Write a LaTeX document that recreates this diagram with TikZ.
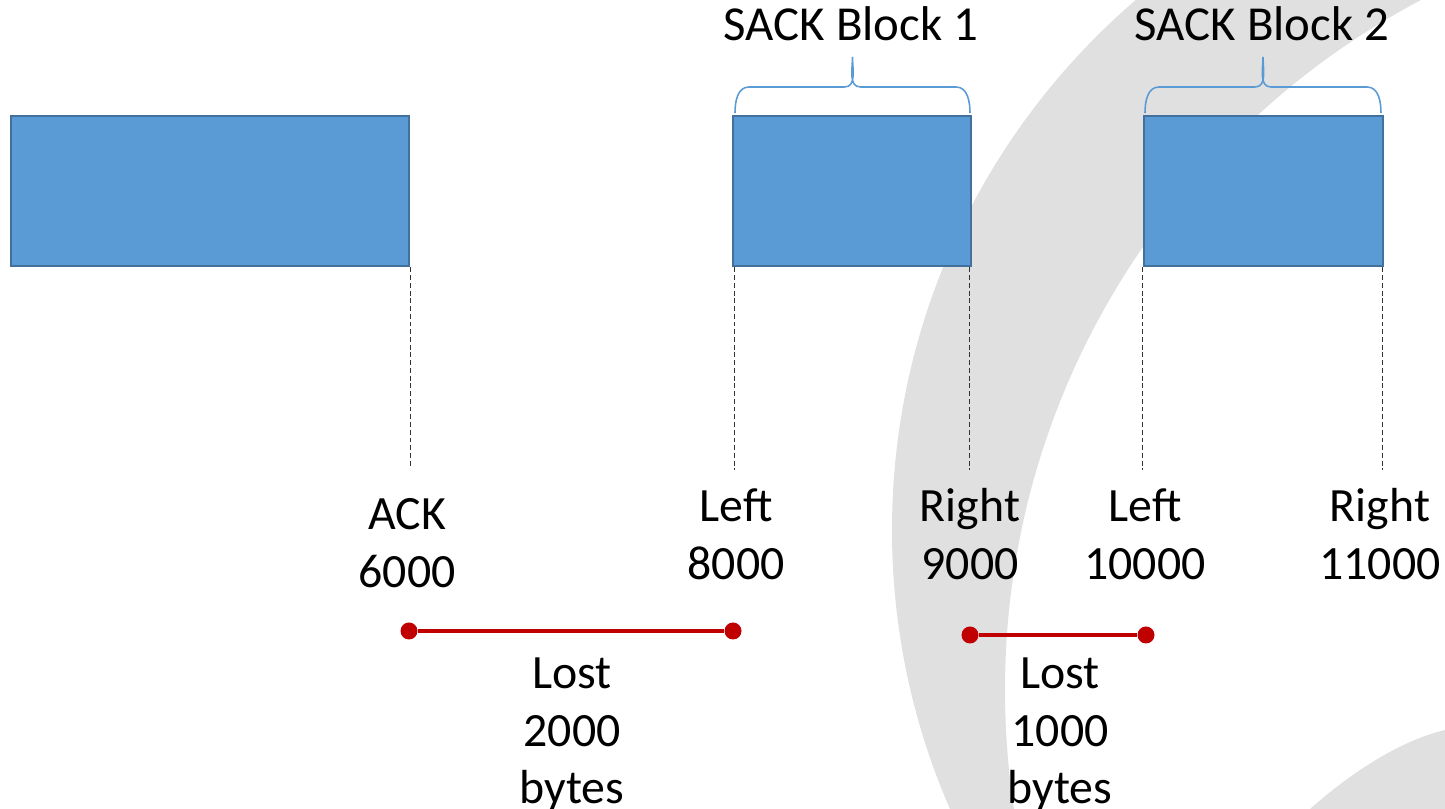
\documentclass[tikz,border=0pt]{standalone}
\usepackage{fontspec}
\setmainfont{Carlito}
\usepackage{tikz}
\definecolor{segblue}{HTML}{5B9BD5}
\definecolor{segedge}{HTML}{41719C}
\definecolor{lossred}{HTML}{C00000}
\definecolor{wmgray}{HTML}{E0E0E0}
\tikzset{
  seg/.style={draw=segedge,fill=segblue,line width=0.8pt,inner sep=0,minimum height=1.5cm},
  guide/.style={draw=black!80,line width=0.45pt,dash pattern=on 1.4pt off 0.8pt},
  lbl/.style={font=\fontsize{13.6}{16.4}\selectfont,align=center,inner sep=0,anchor=north},
  sacklbl/.style={font=\fontsize{13.9}{16.4}\selectfont,inner sep=0,anchor=south},
  sackbrace/.style={draw=segblue,line width=0.45pt},
  lossdot/.style={circle,fill=lossred,inner sep=0,minimum size=0.17cm},
  lossline/.style={draw=lossred,line width=1pt}
}
\begin{document}
\begin{tikzpicture}[y=-1cm]
  \useasboundingbox (0,0) rectangle (14.45,8.09);
  \fill[wmgray,even odd rule] (15.90,5.30) circle (6.98) (17.85,6.90) circle (7.80);
  \fill[wmgray] (13.10,8.09) .. controls (13.45,7.78) and (13.95,7.42) .. (14.45,7.30) -- (14.45,8.09) -- cycle;
  \node[seg,minimum width=3.98cm] (seg0) at (2.10,1.91) {};
  \node[seg,minimum width=2.38cm] (blk1) at (8.52,1.91) {};
  \node[seg,minimum width=2.39cm] (blk2) at (12.635,1.91) {};
  \foreach \bl/\br in {7.35/9.70, 11.45/13.81} {
    \pgfmathsetmacro\bm{(\bl+\br)/2}
    \draw[sackbrace] (\bl,1.13) to[out=90,in=180] (\bl+0.14,0.87) -- (\bm-0.08,0.87)
      to[out=0,in=-90] (\bm,0.57) to[out=-90,in=180] (\bm+0.08,0.87)
      -- (\br-0.14,0.87) to[out=0,in=90] (\br,1.13);
  }
  \node[sacklbl] (t1) at (8.51,0.42) {SACK Block 1};
  \node[sacklbl] (t2) at (12.62,0.42) {SACK Block 2};
  \node[lbl] (ack) at (4.07,4.98) {ACK\\6000};
  \node[lbl] (l1) at (7.36,4.88) {Left\\8000};
  \node[lbl] (r1) at (9.70,4.88) {Right\\9000};
  \node[lbl] (l2) at (11.45,4.88) {Left\\10000};
  \node[lbl] (r2) at (13.80,4.88) {Right\\11000};
  \draw[guide] (seg0.south east) -- (seg0.south east |- 0,4.67);
  \draw[guide] ([xshift=0.03cm]blk1.south west) -- ([xshift=0.03cm]blk1.south west |- 0,4.70);
  \draw[guide] ([xshift=-0.03cm]blk1.south east) -- ([xshift=-0.03cm]blk1.south east |- 0,4.70);
  \draw[guide] (blk2.south west) -- (blk2.south west |- 0,4.70);
  \draw[guide] ([xshift=-0.02cm]blk2.south east) -- ([xshift=-0.02cm]blk2.south east |- 0,4.70);
  \node[lossdot] (d1) at (4.09,6.31) {};
  \node[lossdot] (d2) at (7.33,6.31) {};
  \node[lossdot] (d3) at (9.70,6.35) {};
  \node[lossdot] (d4) at (11.46,6.35) {};
  \draw[lossline] (d1) -- (d2);
  \draw[lossline] (d3) -- (d4);
  \node[lbl] (lost1) at (5.72,6.57) {Lost\\2000\\bytes};
  \node[lbl] (lost2) at (10.60,6.57) {Lost\\1000\\bytes};
\end{tikzpicture}
\end{document}
